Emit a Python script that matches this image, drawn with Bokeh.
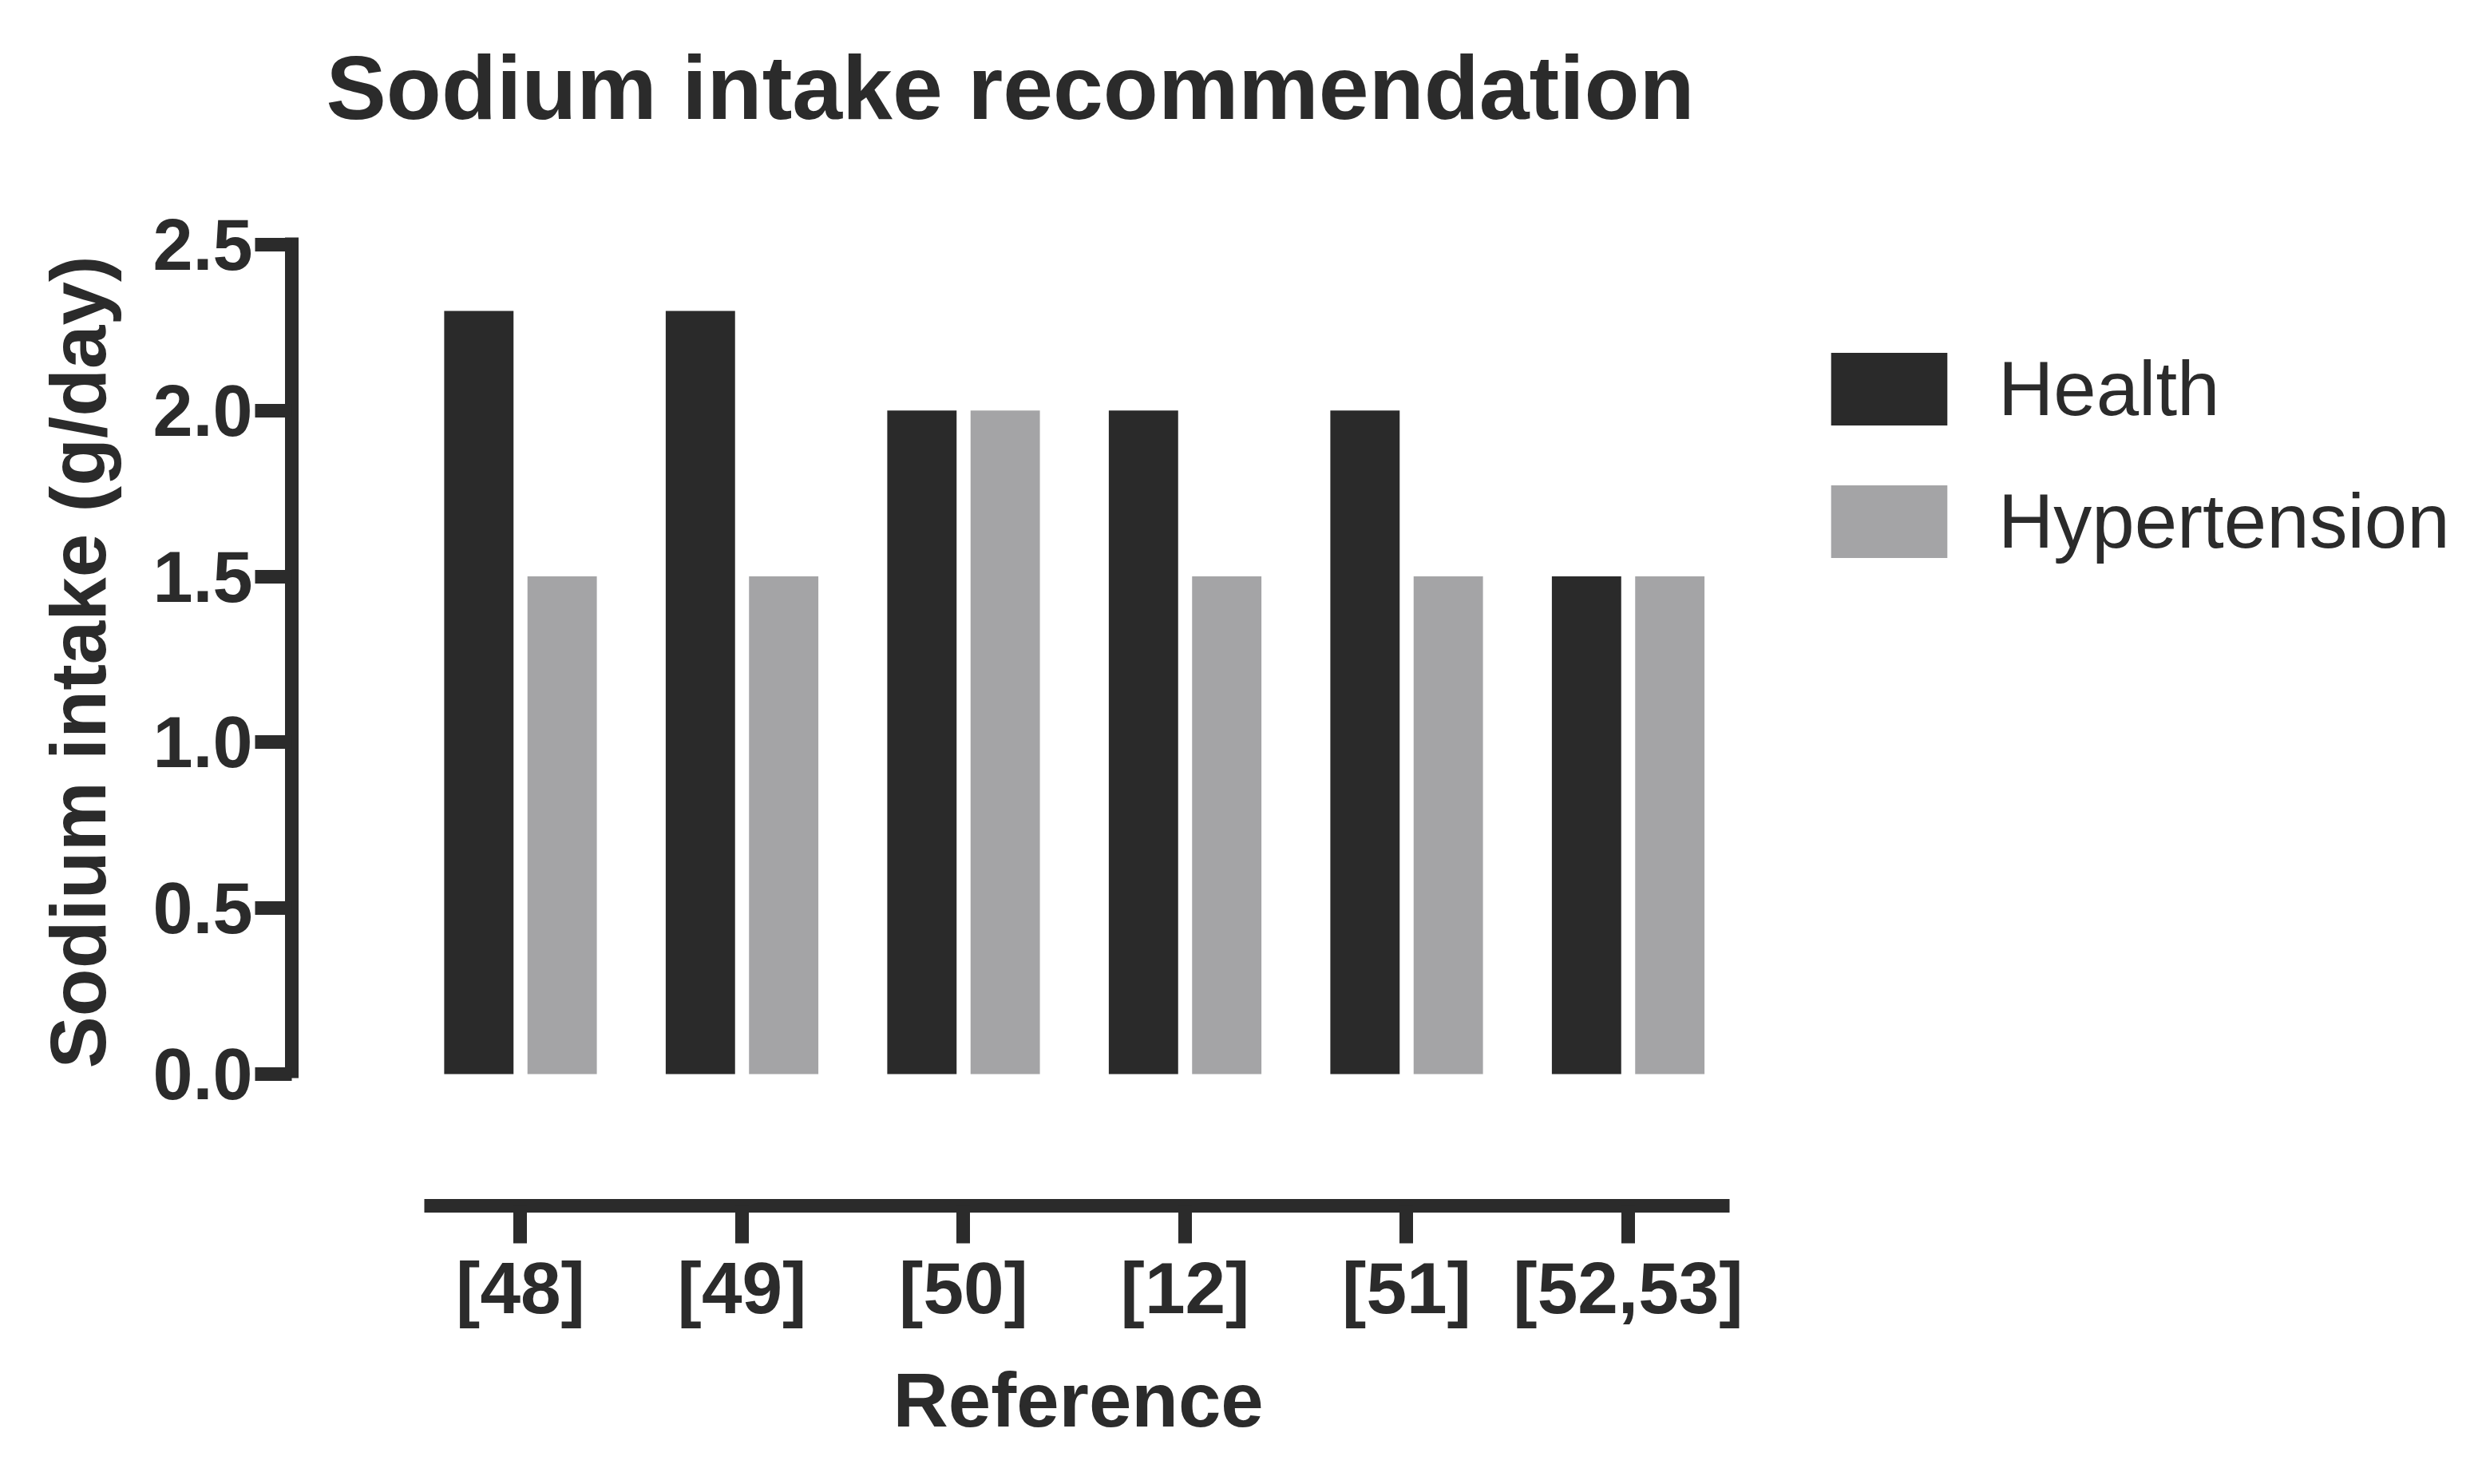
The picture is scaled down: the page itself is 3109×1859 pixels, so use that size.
from bokeh.plotting import figure
from bokeh.models import (Range1d, LinearAxis, FixedTicker, PrintfTickFormatter,
                          Legend, LegendItem, Title, ColumnDataSource)
from bokeh.transform import dodge
from bokeh.embed import file_html
from bokeh.resources import INLINE

# ---- data ----
references = ["[48]", "[49]", "[50]", "[12]", "[51]", "[52,53]"]
positions = [1, 2, 3, 4, 5, 6]
health = [2.3, 2.3, 2.0, 2.0, 2.0, 1.5]
hypertension = [1.5, 1.5, 2.0, 1.5, 1.5, 1.5]
y_ticks = [0.0, 0.5, 1.0, 1.5, 2.0, 2.5]
series_names = ["Health", "Hypertension"]

DARK = "#2a2a2a"
GREY = "#a4a4a6"
TXT = "#2b2b2b"
FONT = "Liberation Sans"

source = ColumnDataSource(data=dict(x=positions, health=health,
                                    hypertension=hypertension, ref=references))

W, H = 3100, 1850
# the frame runs to the right edge so the legend (drawn inside it) is not clipped;
# the visible x axis is limited with bounds, as in the reference
p = figure(width=W, height=H, output_backend="svg", toolbar_location=None,
           x_range=Range1d(-0.0324, 9.8054), y_range=Range1d(-0.397, 2.755),
           x_axis_type=None, y_axis_type=None,
           min_border_left=365, min_border_right=5,
           min_border_top=200, min_border_bottom=H - 1510)
p.outline_line_color = None
p.background_fill_color = "white"

# title
p.title.text = "Sodium intake recommendation"
p.title.align = "left"
p.title.offset = 43
p.title.text_font = FONT
p.title.text_font_size = "113px"
p.title.text_font_style = "bold"
p.title.text_color = TXT
p.title.standoff = 55

# bars
r_h = p.vbar(x=dodge("x", -0.188, range=p.x_range), top="health", width=0.313,
             source=source, fill_color=DARK, line_color=None)
r_t = p.vbar(x=dodge("x", 0.188, range=p.x_range), top="hypertension", width=0.313,
             source=source, fill_color=GREY, line_color=None)

# y axis
yax = LinearAxis(bounds=(-0.012, 2.522), ticker=FixedTicker(ticks=y_ticks),
                 formatter=PrintfTickFormatter(format="%.1f"))
yax.axis_line_width = 17
yax.axis_line_color = TXT
yax.major_tick_line_width = 17
yax.major_tick_line_color = TXT
yax.major_tick_out = 46
yax.major_tick_in = 0
yax.minor_tick_line_color = None
yax.major_label_standoff = 3
yax.major_label_text_font = FONT
yax.major_label_text_font_size = "90px"
yax.major_label_text_font_style = "bold"
yax.major_label_text_color = TXT
p.add_layout(yax, "left")

# x axis (offset below)
xax = LinearAxis(bounds=(0.566, 6.4576), ticker=FixedTicker(ticks=positions),
                 major_label_overrides={pos: lab for pos, lab in zip(positions, references)})
xax.axis_line_width = 17
xax.axis_line_color = TXT
xax.major_tick_line_width = 17
xax.major_tick_line_color = TXT
xax.major_tick_out = 47
xax.major_tick_in = 0
xax.minor_tick_line_color = None
xax.major_label_standoff = 5
xax.major_label_text_font = FONT
xax.major_label_text_font_size = "91px"
xax.major_label_text_font_style = "bold"
xax.major_label_text_color = TXT
p.add_layout(xax, "below")

# axis titles
ytitle = Title(text="Sodium intake (g/day)", align="left", offset=172,
               vertical_align="bottom", standoff=72, text_font=FONT,
               text_font_size="98px", text_font_style="bold", text_color=TXT)
p.add_layout(ytitle, "left")
xtitle = Title(text="Reference", align="left", offset=753,
               vertical_align="top", standoff=67, text_font=FONT,
               text_font_size="96px", text_font_style="bold", text_color=TXT)
p.add_layout(xtitle, "below")

# legend
legend = Legend(items=[LegendItem(label=series_names[0], renderers=[r_h]),
                       LegendItem(label=series_names[1], renderers=[r_t])],
                location=(1910, 800))
legend.glyph_width = 182
legend.glyph_height = 114
legend.label_height = 114
legend.label_standoff = 46
legend.spacing = 52
legend.padding = 0
legend.margin = 0
legend.border_line_color = None
legend.background_fill_alpha = 0
legend.label_text_font = FONT
legend.label_text_font_size = "96px"
legend.label_text_color = TXT
p.add_layout(legend, "center")

open("out.html", "w").write(file_html(p, INLINE))
